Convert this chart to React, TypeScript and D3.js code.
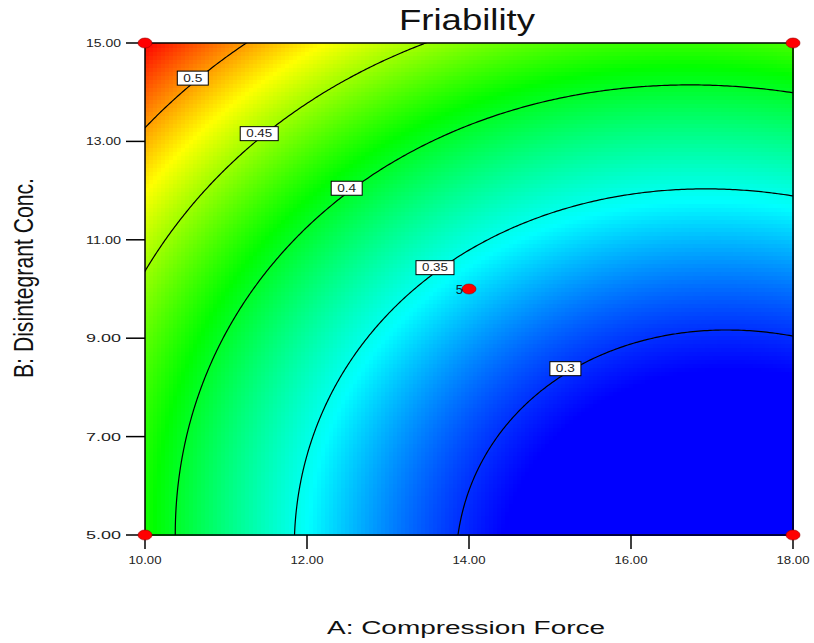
import React, { useMemo } from "react";
import * as d3 from "d3";

// ---- data ----
const A_TICKS = [10, 12, 14, 16, 18];
const B_TICKS = [5, 7, 9, 11, 13, 15];
const A_DOMAIN = [10, 18];
const B_DOMAIN = [5, 15];
// quadratic response surface in coded units: [intercept, A, B, AB, A^2, B^2]
const MODEL_COEFS = [0.3378, -0.0654, 0.0722, 0.0096, 0.0421, 0.0318];
const CONTOUR_LEVELS = [0.3, 0.35, 0.4, 0.45, 0.5];
const CONTOUR_LABEL_A = [15.19, 13.58, 12.49, 11.41, 10.59];
const DESIGN_A = [10, 10, 18, 18, 14];
const DESIGN_B = [5, 15, 5, 15, 10];
const DESIGN_REPS = [1, 1, 1, 1, 5];
const COLOR_STOPS = [0.29, 0.345, 0.41, 0.475, 0.54];
const COLOR_RANGE = ["#0000ff", "#00ffff", "#00ff00", "#ffff00", "#ff0000"];

const W = 814, H = 643;
const PL = 145, PR = 793, PT = 43, PB = 535;
const FONT = "'Liberation Sans', Arial, sans-serif";

function friability(a: number, b: number) {
  const x = (a - 14) / 4, y = (b - 10) / 5;
  const [c0, c1, c2, c12, c11, c22] = MODEL_COEFS;
  return c0 + c1 * x + c2 * y + c12 * x * y + c11 * x * x + c22 * y * y;
}

function bOnContour(a: number, level: number) {
  const x = (a - 14) / 4;
  const [c0, c1, c2, c12, c11, c22] = MODEL_COEFS;
  const qa = c22, qb = c2 + c12 * x, qc = c0 + c1 * x + c11 * x * x - level;
  const disc = Math.max(0, qb * qb - 4 * qa * qc);
  const y = (-qb + Math.sqrt(disc)) / (2 * qa);
  return 10 + 5 * y;
}

export default function App() {
  const xS = d3.scaleLinear().domain(A_DOMAIN).range([PL, PR]);
  const yS = d3.scaleLinear().domain(B_DOMAIN).range([PB, PT]);
  const color = d3
    .scaleLinear<string>()
    .domain(COLOR_STOPS)
    .range(COLOR_RANGE)
    .interpolate(d3.interpolateRgb)
    .clamp(true);

  const cells = useMemo(() => {
    const nx = 162, ny = 123;
    const dA = (A_DOMAIN[1] - A_DOMAIN[0]) / nx;
    const dB = (B_DOMAIN[1] - B_DOMAIN[0]) / ny;
    const out: { x: number; y: number; w: number; h: number; c: string }[] = [];
    for (let j = 0; j < ny; j++) {
      for (let i = 0; i < nx; i++) {
        const a0 = A_DOMAIN[0] + i * dA, b0 = B_DOMAIN[0] + j * dB;
        const v = friability(a0 + dA / 2, b0 + dB / 2);
        const x0 = xS(a0), x1 = xS(a0 + dA);
        const y0 = yS(b0 + dB), y1 = yS(b0);
        out.push({ x: x0, y: y0, w: x1 - x0 + 0.6, h: y1 - y0 + 0.6, c: color(v) });
      }
    }
    return out;
  }, []);

  const contourPaths = useMemo(() => {
    const n = 241, m = 241;
    const A0 = 9.8, A1 = 18.2, B0 = 4.8, B1 = 15.2;
    const dA = (A1 - A0) / (n - 1), dB = (B1 - B0) / (m - 1);
    const values = new Array(n * m);
    for (let j = 0; j < m; j++)
      for (let i = 0; i < n; i++) values[j * n + i] = friability(A0 + i * dA, B0 + j * dB);
    const gen = d3.contours().size([n, m]).thresholds(CONTOUR_LEVELS);
    const proj = d3.geoTransform({
      point(px: number, py: number) {
        // @ts-ignore
        this.stream.point(xS(A0 + (px - 0.5) * dA), yS(B0 + (py - 0.5) * dB));
      },
    });
    const path = d3.geoPath(proj);
    return gen(values).map((c) => ({ level: c.value, d: path(c as any) || "" }));
  }, []);

  const labels = CONTOUR_LEVELS.map((lv, k) => {
    const a = CONTOUR_LABEL_A[k];
    const b = bOnContour(a, lv);
    const txt = String(lv);
    const w = 10 + 7 * txt.length;
    return { x: xS(a), y: yS(b) - 5, txt, w };
  });

  return (
    <svg
      width={W}
      height={H}
      style={{ position: "absolute", left: 0, top: 0, background: "#fff" }}
      fontFamily={FONT}
    >
      <defs>
        <clipPath id="plotClip">
          <rect x={PL} y={PT} width={PR - PL} height={PB - PT} />
        </clipPath>
      </defs>
      <rect x={0} y={0} width={W} height={H} fill="#fff" />
      <g shapeRendering="crispEdges">
        {cells.map((c, i) => (
          <rect key={i} x={c.x} y={c.y} width={c.w} height={c.h} fill={c.c} />
        ))}
      </g>
      <g clipPath="url(#plotClip)">
        {contourPaths.map((c, i) => (
          <path key={i} d={c.d} fill="none" stroke="#000" strokeWidth={1.2} />
        ))}
      </g>
      {labels.map((l, i) => (
        <g key={i}>
          <rect x={l.x - l.w / 2} y={l.y - 7} width={l.w} height={14} fill="#fff" stroke="#000" strokeWidth={1} />
          <text
            x={l.x}
            y={l.y + 3.8}
            fontSize={10.5}
            textAnchor="middle"
            fill="#222"
            textLength={7 * l.txt.length - 2}
            lengthAdjust="spacingAndGlyphs"
          >
            {l.txt}
          </text>
        </g>
      ))}
      <rect x={PL} y={PT} width={PR - PL} height={PB - PT} fill="none" stroke="#000" strokeWidth={1.5} />
      {/* x ticks */}
      {A_TICKS.map((t) => (
        <g key={"xa" + t}>
          <line x1={xS(t)} x2={xS(t)} y1={PB} y2={PB + 14} stroke="#000" strokeWidth={1.5} />
          <text
            x={xS(t)}
            y={564}
            fontSize={10.5}
            textAnchor="middle"
            fill="#222"
            textLength={33}
            lengthAdjust="spacingAndGlyphs"
          >
            {t.toFixed(2)}
          </text>
        </g>
      ))}
      {/* y ticks */}
      {B_TICKS.map((t) => (
        <g key={"yb" + t}>
          <line x1={PL - 19} x2={PL} y1={yS(t)} y2={yS(t)} stroke="#000" strokeWidth={1.5} />
          <text
            x={121}
            y={yS(t) + 4}
            fontSize={11}
            textAnchor="end"
            fill="#222"
            textLength={35}
            lengthAdjust="spacingAndGlyphs"
          >
            {t.toFixed(2)}
          </text>
        </g>
      ))}
      {/* design points */}
      {DESIGN_A.map((a, i) => (
        <g key={"dp" + i}>
          <ellipse cx={xS(a)} cy={yS(DESIGN_B[i])} rx={7} ry={5} fill="#ff0000" stroke="#900" strokeWidth={0.6} />
          {DESIGN_REPS[i] > 1 && (
            <text x={xS(a) - 6} y={yS(DESIGN_B[i]) + 4.5} fontSize={13} textAnchor="end" fill="#123">
              {DESIGN_REPS[i]}
            </text>
          )}
        </g>
      ))}
      {/* titles */}
      <text x={467} y={30} fontSize={30} textAnchor="middle" fill="#111" textLength={136} lengthAdjust="spacingAndGlyphs">
        Friability
      </text>
      <text x={466} y={634} fontSize={18} textAnchor="middle" fill="#111" textLength={278} lengthAdjust="spacingAndGlyphs">
        A: Compression Force
      </text>
      <g transform={`translate(33, 278) scale(1.5, 1) rotate(-90)`}>
        <text x={0} y={0} fontSize={18.5} textAnchor="middle" fill="#111" textLength={200} lengthAdjust="spacingAndGlyphs">
          B: Disintegrant Conc.
        </text>
      </g>
    </svg>
  );
}
